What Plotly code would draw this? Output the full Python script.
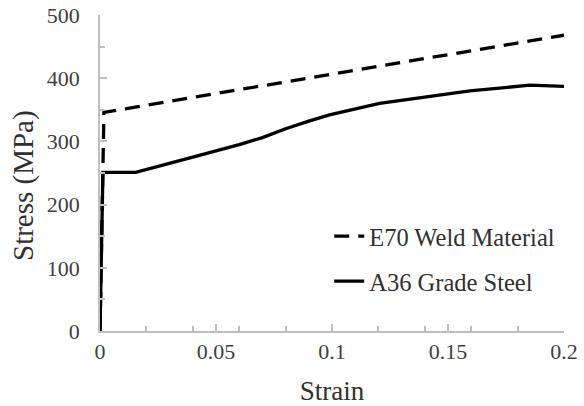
import plotly.graph_objects as go

# Data
e70_strain = [0.0, 0.0017, 0.2]
e70_stress = [0.0, 346.0, 468.0]

a36_strain = [0.0, 0.00125, 0.0154, 0.025, 0.0327, 0.0428, 0.0514, 0.06, 0.07, 0.08, 0.09,
              0.0989, 0.1205, 0.142, 0.1594, 0.1853, 0.2]
a36_stress = [0.0, 251.0, 251.0, 261.0, 268.0, 278.0, 286.0, 295.0, 306.0, 320.0, 332.0,
              342.0, 360.0, 371.0, 380.0, 389.0, 387.0]

x_ticks = [0, 0.05, 0.1, 0.15, 0.2]
x_ticklabels = ["0", "0.05", "0.1", "0.15", "0.2"]
y_ticks = [0, 100, 200, 300, 400, 500]

serif = "'Times New Roman', 'Liberation Serif', 'DejaVu Serif', serif"
axis_gray = "#bfbfbf"
text_color = "#404040"

fig = go.Figure()
fig.add_trace(go.Scatter(x=e70_strain, y=e70_stress, mode="lines", name="E70 Weld Material",
                         line=dict(color="black", width=3.3, dash="15px,9px"),
                         legendgroup="a", cliponaxis=False))
fig.add_trace(go.Scatter(x=a36_strain, y=a36_stress, mode="lines", name="A36 Grade Steel",
                         line=dict(color="black", width=3.3),
                         legendgroup="b", cliponaxis=False))

fig.update_layout(
    width=584, height=406,
    margin=dict(l=100, r=20, t=15, b=75),
    paper_bgcolor="white", plot_bgcolor="white",
    font=dict(family=serif, color=text_color, size=22),
    showlegend=True,
    legend=dict(x=0.494, y=0.371, xanchor="left", yanchor="top",
                font=dict(family=serif, size=24.5, color="#303030"),
                bgcolor="rgba(255,255,255,0)", tracegroupgap=10),
    annotations=[dict(text="Stress (MPa)", textangle=-90, showarrow=False,
                      xref="paper", yref="paper", x=-0.166, y=0.462,
                      xanchor="center", yanchor="middle",
                      font=dict(family=serif, size=29, color="#303030"))],
)

fig.update_xaxes(range=[0, 0.2], tickvals=x_ticks, ticktext=x_ticklabels,
                 automargin=False,
                 showgrid=False, zeroline=False,
                 showline=True, linecolor=axis_gray, linewidth=1.5,
                 ticks="inside", ticklen=7, tickcolor=axis_gray, tickwidth=1.5,
                 minor=dict(dtick=0.02, tick0=0, ticks="inside", ticklen=5,
                            tickcolor=axis_gray, tickwidth=1.5, showgrid=False),
                 tickfont=dict(family=serif, size=22, color=text_color),
                 title=dict(text="Strain", font=dict(family=serif, size=27, color="#303030"), standoff=19))

fig.update_yaxes(range=[0, 500], tickvals=y_ticks,
                 automargin=False,
                 showgrid=False, zeroline=False,
                 showline=True, linecolor=axis_gray, linewidth=1.5,
                 ticks="inside", ticklen=7, tickcolor=axis_gray, tickwidth=1.5,
                 minor=dict(dtick=50, tick0=0, ticks="inside", ticklen=5,
                            tickcolor=axis_gray, tickwidth=1.5, showgrid=False),
                 tickfont=dict(family=serif, size=22, color=text_color),
                 ticklabelstandoff=14)

fig.write_html("out.html", config={"displayModeBar": False},
               post_script="document.body.style.margin='0';document.body.style.padding='0';")
